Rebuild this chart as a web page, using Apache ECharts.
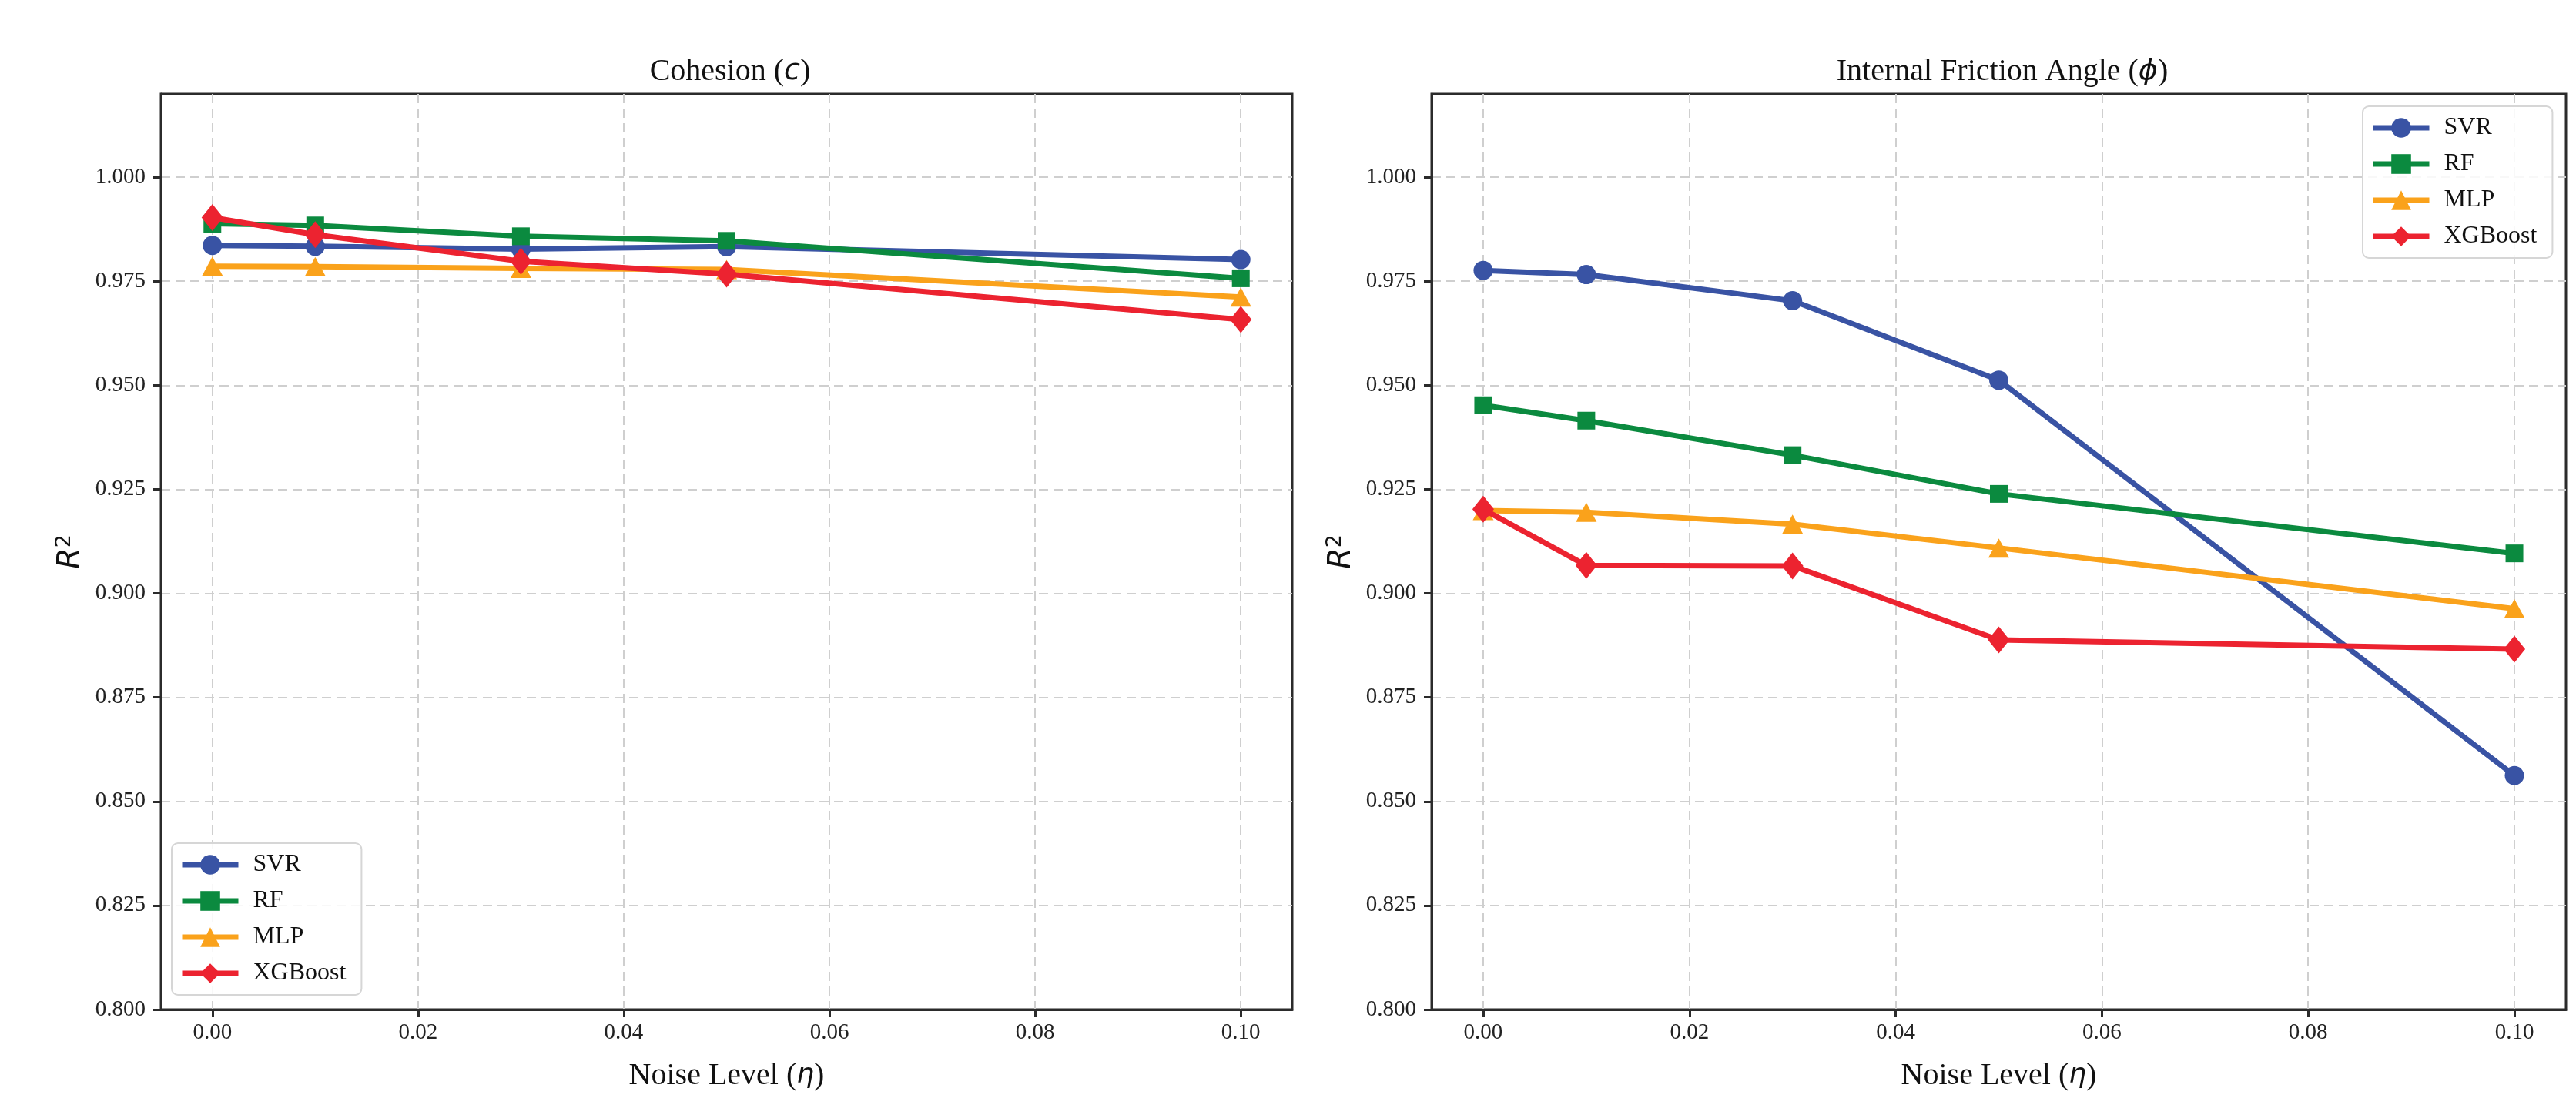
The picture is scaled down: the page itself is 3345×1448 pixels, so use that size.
<!DOCTYPE html>
<html>
<head>
<meta charset="utf-8">
<title>R2 vs noise level</title>
<script src="https://cdn.jsdelivr.net/npm/echarts@6/dist/echarts.min.js"></script>
<style>
  html, body { margin: 0; padding: 0; background: #fff; }
  #chart { width: 3345px; height: 1448px; }
</style>
</head>
<body>
<div id="chart"></div>
<script>
// noise levels (x) and models
var noiseLevels = [0, 0.01, 0.03, 0.05, 0.10];
var models = ["SVR", "RF", "MLP", "XGBoost"];
var xTicks = [0, 0.02, 0.04, 0.06, 0.08, 0.10];
var yTicks = [0.800, 0.825, 0.850, 0.875, 0.900, 0.925, 0.950, 0.975, 1.000];

// Cohesion (c)
var cohesionSVR = [0.9836, 0.9834, 0.9827, 0.9833, 0.9802];
var cohesionRF = [0.9888, 0.9884, 0.9858, 0.9847, 0.9757];
var cohesionMLP = [0.9786, 0.9785, 0.9781, 0.9778, 0.9712];
var cohesionXGB = [0.9903, 0.9862, 0.9798, 0.9767, 0.9658];

// Internal friction angle (phi)
var frictionSVR = [0.9776, 0.9766, 0.9703, 0.9512, 0.8562];
var frictionRF = [0.9452, 0.9415, 0.9332, 0.9239, 0.9096];
var frictionMLP = [0.9199, 0.9195, 0.9166, 0.9109, 0.8963];
var frictionXGB = [0.9202, 0.9067, 0.9066, 0.8888, 0.8866];

var colors = ["#3953a4", "#0b8a3f", "#faa21b", "#ec2330"];
var symbols = ["circle", "rect", "triangle", "diamond"];
var symbolSizes = [25, 23, [27, 25], [28, 35]];

var serif = "Liberation Serif";
var axisColor = "#2b2b2b";

function pairs(vals) {
    return noiseLevels.map(function (x, i) { return [x, vals[i]]; });
}

function makeSeries(idx, sets) {
    return sets.map(function (vals, k) {
        return {
            name: models[k],
            type: "line",
            xAxisIndex: idx,
            yAxisIndex: idx,
            data: pairs(vals),
            symbol: symbols[k],
            symbolSize: symbolSizes[k],
            showAllSymbol: true,
            color: colors[k],
            lineStyle: { width: 7, color: colors[k] },
            itemStyle: { color: colors[k] },
            z: 3 + k
        };
    });
}

function xAxis(idx) {
    return {
        type: "value",
        gridIndex: idx,
        min: -0.005,
        max: 0.105,
        splitNumber: 5,
        name: "{a|Noise Level (}{b|η}{a|)}",
        nameLocation: "middle",
        nameGap: 66,
        nameTextStyle: {
            rich: {
                a: { fontFamily: serif, fontSize: 40, color: "#111" },
                b: { fontFamily: "DejaVu Sans", fontStyle: "italic", fontSize: 36, color: "#111" }
            }
        },
        axisLine: { show: true, onZero: false, lineStyle: { color: axisColor, width: 3 } },
        axisTick: { show: true, customValues: xTicks, length: 10, lineStyle: { color: axisColor, width: 3 } },
        axisLabel: {
            customValues: xTicks,
            margin: 16,
            fontFamily: serif,
            fontSize: 29,
            color: "#222",
            formatter: function (v) { return v.toFixed(2); }
        },
        splitLine: { show: true, lineStyle: { color: "#cfcfcf", width: 2, type: [12, 7] } }
    };
}

function yAxis(idx) {
    return {
        type: "value",
        gridIndex: idx,
        min: 0.8,
        max: 1.02,
        interval: 0.025,
        name: "{r|R}{s|2}",
        nameLocation: "middle",
        nameGap: 94,
        nameTextStyle: {
            rich: {
                r: { fontFamily: "DejaVu Sans", fontStyle: "italic", fontSize: 40, color: "#111" },
                s: { fontFamily: "DejaVu Sans", fontSize: 27, color: "#111", padding: [0, 0, 18, 0] }
            }
        },
        axisLine: { show: true, onZero: false, lineStyle: { color: axisColor, width: 3 } },
        axisTick: { show: true, customValues: yTicks, length: 10, lineStyle: { color: axisColor, width: 3 } },
        axisLabel: {
            customValues: yTicks,
            margin: 20,
            fontFamily: serif,
            fontSize: 29,
            color: "#222",
            formatter: function (v) { return v > 1.0001 ? "" : v.toFixed(3); }
        },
        splitLine: { show: true, lineStyle: { color: "#cfcfcf", width: 2, type: [12, 7] } }
    };
}

function legend(left, top) {
    return {
        data: models,
        orient: "vertical",
        left: left,
        top: top,
        itemWidth: 73,
        itemHeight: 32,
        itemGap: 15,
        padding: [12, 20, 12, 10],
        backgroundColor: "rgba(255,255,255,0.85)",
        borderColor: "#d6d6d6",
        borderWidth: 2,
        borderRadius: 8,
        lineStyle: { width: 7 },
        textStyle: { fontFamily: serif, fontSize: 32, color: "#111", padding: [0, 0, 0, 14] }
    };
}

var titleRich = {
    a: { fontFamily: serif, fontSize: 40, fontWeight: "normal", color: "#111" },
    b: { fontFamily: "DejaVu Sans", fontStyle: "italic", fontWeight: "normal", fontSize: 38, color: "#111" }
};

var chart = echarts.init(document.getElementById("chart"));
chart.setOption({
    animation: false,
    backgroundColor: "#fff",
    title: [
        { text: "{a|Cohesion (}{b|c}{a|)}", left: 943, top: 68, textAlign: "center", textStyle: { fontWeight: "normal", rich: titleRich } },
        { text: "{a|Internal Friction Angle (}{b|ϕ}{a|)}", left: 2595, top: 68, textAlign: "center", textStyle: { fontWeight: "normal", rich: titleRich } }
    ],
    legend: [legend(223, 1095), legend(3068, 138)],
    grid: [
        { left: 209, top: 122, width: 1469, height: 1189, show: true, borderColor: axisColor, borderWidth: 3, backgroundColor: "transparent" },
        { left: 1859, top: 122, width: 1473, height: 1189, show: true, borderColor: axisColor, borderWidth: 3, backgroundColor: "transparent" }
    ],
    xAxis: [xAxis(0), xAxis(1)],
    yAxis: [yAxis(0), yAxis(1)],
    series: makeSeries(0, [cohesionSVR, cohesionRF, cohesionMLP, cohesionXGB])
        .concat(makeSeries(1, [frictionSVR, frictionRF, frictionMLP, frictionXGB]))
});
</script>
</body>
</html>
